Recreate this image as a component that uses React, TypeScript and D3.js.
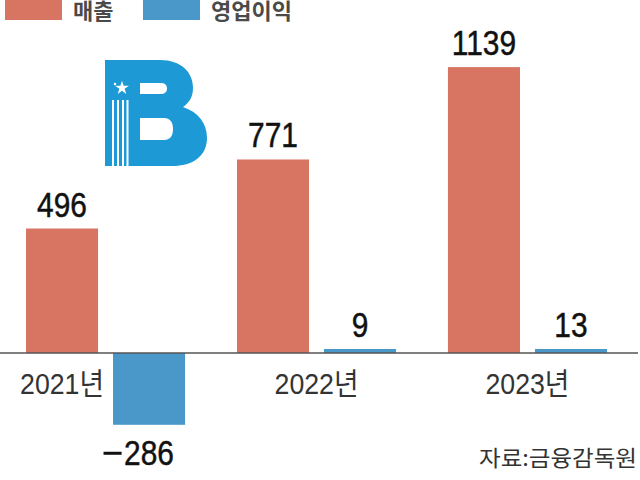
import React from 'react';
import * as d3 from 'd3';

const years = ['2021년', '2022년', '2023년'];
const seriesNames = ['매출', '영업이익'];
const revenue = [496, 771, 1139];
const operatingProfit = [-286, 9, 13];
const sourceText = '자료:금융감독원';

const RED = '#d87462';
const BLUE = '#4a98c9';
const LOGO = '#1d9ad6';
const NUM_FONT = "'Liberation Sans', Arial, sans-serif";
const KR_FONT = "'Noto Sans CJK KR', sans-serif";
const NUM_SIZE = 36;
const NUM_SQUEEZE = 0.83;

export default function App() {
  const W = 640;
  const H = 480;
  const x0 = d3.scaleBand<string>().domain(years).range([26, 607]).paddingInner(0.246).paddingOuter(0);
  const x1 = d3.scaleBand<string>().domain(seriesNames).range([0, x0.bandwidth()]).paddingInner(0.172);
  const y = d3.scaleLinear().domain([-300, 1200]).range([428.3, 51.8]);
  const y0 = y(0);
  const colors = [RED, BLUE];
  const minH = 4;

  const bars: any[] = [];
  years.forEach((yr, i) => {
    [revenue[i], operatingProfit[i]].forEach((v, j) => {
      const name = seriesNames[j];
      const bx = (x0(yr) as number) + (x1(name) as number);
      const h = Math.max(Math.abs(y(v) - y0), minH);
      const top = v >= 0 ? y0 - h : y0;
      bars.push({ key: yr + name, x: bx, w: x1.bandwidth(), top, h, v, color: colors[j] });
    });
  });

  const star = d3.symbol().type(d3.symbolStar).size(60)();
  const digitW = 0.556 * NUM_SIZE * NUM_SQUEEZE;

  return (
    <svg width={W} height={H} style={{ position: 'absolute', left: 0, top: 0, background: '#fff' }}>
      {/* legend */}
      {seriesNames.map((s, i) => {
        const lx = [5, 143][i];
        return (
          <g key={s}>
            <rect x={lx} y={-10} width={57} height={30} fill={colors[i]} />
            <text x={lx + 68} y={19} fontSize={22} fontWeight={600} fill="#4a4a4a" fontFamily={KR_FONT}>{s}</text>
          </g>
        );
      })}

      {/* logo */}
      <g>
        <path d="M105,60 H160 C181,60 193,72 193,88 C193,97 189,103 183,107 C198,112 207,123 207,138 C207,156 193,166 172,166 H105 Z" fill={LOGO} />
        <path d="M140,83 H160 C165,83 167,85 167,88.5 C167,92 165,94 160,94 H140 Z" fill="#fff" />
        <path d="M140,118 H164 C170,118 173,122 173,129 C173,136 170,140 164,140 H140 Z" fill="#fff" />
        {[113, 118, 123, 127.5].map((sx) => (
          <rect key={sx} x={sx - 1} y={100} width={2} height={66} fill="#fff" />
        ))}
        <path d={star as string} transform="translate(122,88)" fill="#fff" />
        <circle cx={115} cy={84} r={1.2} fill="#fff" />
      </g>

      {/* bars */}
      {bars.map((b) => (
        <rect key={b.key} x={b.x} y={b.top} width={b.w} height={b.h} fill={b.color} />
      ))}

      {/* baseline */}
      <line x1={0} x2={638} y1={y0} y2={y0} stroke="#555" strokeWidth={1.5} />

      {/* value labels */}
      {bars.map((b) => {
        const cx = b.x + b.w / 2;
        const ty = b.v >= 0 ? b.top - 12 : b.top + b.h + 40;
        const digits = String(Math.abs(b.v));
        return (
          <g key={'l' + b.key} transform={`translate(${cx},${ty})`}>
            <text x={0} y={0} textAnchor="middle" fontSize={NUM_SIZE} fill="#111" stroke="#111" strokeWidth={0.5}
              fontFamily={NUM_FONT} transform={`scale(${NUM_SQUEEZE},1)`}>
              {digits}
            </text>
            {b.v < 0 && (
              <text x={-(digits.length * digitW) / 2 - 1} y={0} textAnchor="end" fontSize={NUM_SIZE} fill="#111"
                stroke="#111" strokeWidth={0.5} fontFamily={NUM_FONT}>
                −
              </text>
            )}
          </g>
        );
      })}

      {/* category labels */}
      {years.map((yr, i) => {
        const cx = operatingProfit[i] < 0
          ? (x0(yr) as number) + (x1(seriesNames[0]) as number) + x1.bandwidth() / 2
          : (x0(yr) as number) + x0.bandwidth() / 2;
        return (
          <g key={yr} transform={`translate(${cx},394)`}>
            <text x={0} y={0} textAnchor="middle" fontSize={30} fill="#333" fontFamily={NUM_FONT + ", 'Noto Sans CJK KR'"}
              transform="scale(0.89,1)">
              {yr}
            </text>
          </g>
        );
      })}

      {/* source */}
      <text x={637} y={466} textAnchor="end" fontSize={22} fill="#333" fontFamily={KR_FONT}
        textLength={158} lengthAdjust="spacingAndGlyphs">{sourceText}</text>
    </svg>
  );
}
